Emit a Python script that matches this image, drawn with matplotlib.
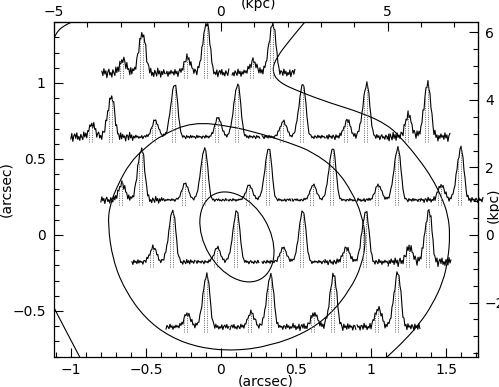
import numpy as np
import matplotlib
matplotlib.use("Agg")
import matplotlib.pyplot as plt
from matplotlib.path import Path
from matplotlib.patches import PathPatch, Ellipse
from matplotlib import ticker

kpc_per_arcsec = 4.5

# fibre positions (arcsec): continuum level of each row, x centre of each spectrum
row_y = [1.066, 0.645, 0.23, -0.178, -0.605]
row_x = [
    [-0.58, -0.153, 0.287],
    [-0.787, -0.367, 0.053, 0.487, 0.913, 1.32],
    [-0.587, -0.167, 0.26, 0.687, 1.12, 1.54],
    [-0.38, 0.047, 0.487, 0.907, 1.327],
    [-0.153, 0.273, 0.693, 1.12],
]
# line peak heights and noise level (plot units)
small_amp = [
    [0.085, 0.10, 0.08],
    [0.08, 0.11, 0.13, 0.105, 0.11, 0.145],
    [0.11, 0.11, 0.10, 0.10, 0.10, 0.10],
    [0.10, 0.095, 0.095, 0.095, 0.095],
    [0.09, 0.095, 0.09, 0.125],
]
big_amp = [
    [0.26, 0.33, 0.32],
    [0.26, 0.345, 0.345, 0.345, 0.345, 0.345],
    [0.34, 0.34, 0.34, 0.34, 0.34, 0.34],
    [0.335, 0.335, 0.335, 0.335, 0.335],
    [0.34, 0.34, 0.34, 0.355],
]
noise_amp = [
    [0.035, 0.028, 0.028],
    [0.033, 0.013, 0.013, 0.013, 0.02, 0.033],
    [0.026, 0.01, 0.01, 0.01, 0.013, 0.02],
    [0.018, 0.013, 0.013, 0.02, 0.033],
    [0.02, 0.02, 0.026, 0.026],
]

# line profiles, 64 channels per spectrum
small_prof = [0.0, 0.02, 0.04, 0.08, 0.15, 0.26, 0.4, 0.57, 0.74, 0.9, 1.0, 0.97, 0.86,
              0.7, 0.52, 0.35, 0.21, 0.11, 0.05, 0.02, 0.0]
big_prof = [0.0, 0.01, 0.02, 0.04, 0.07, 0.12, 0.2, 0.31, 0.45, 0.6, 0.75, 0.88, 0.97,
            1.0, 0.95, 0.82, 0.62, 0.4, 0.22, 0.1, 0.04, 0.01, 0.0]
noise = [0.3, -0.5, 0.8, -0.2, 0.4, -0.9, 0.2, 0.7, -0.4, 0.1, -0.8, 0.6, 0.0, -0.6, 0.9, -0.3,
         0.5, -0.7, 0.8, -0.1, 0.3, -0.5, 0.6, 0.1, -0.9, 0.7, -0.2, 0.3, -0.6, 0.8, -0.4, 0.5,
         -0.1, 0.2, -0.8, 0.4, 0.3, -0.6, 0.9, -0.2, 0.4, -0.7, 0.1, -0.4, 0.7, -0.9, 0.2, 0.6,
         -0.3, 0.8, -0.5, 0.1, -0.7, 0.5, 0.0, -0.6, 0.9, -0.2, 0.4, -0.8, 0.3, -0.3, 0.6, -0.1]

# contours (arcsec)
inner_c = (0.107, -0.013)
inner_w, inner_h, inner_ang = 0.638, 0.433, -59.5
mid_loop = [(-0.753, 0.066), (-0.74, 0.197), (-0.687, 0.329), (-0.607, 0.474), (-0.507, 0.572),
            (-0.393, 0.658), (-0.187, 0.743), (0.06, 0.717), (0.273, 0.664), (0.46, 0.605),
            (0.613, 0.546), (0.773, 0.428), (0.873, 0.283), (0.94, 0.132), (0.967, -0.033),
            (0.94, -0.197), (0.86, -0.362), (0.727, -0.526), (0.56, -0.645), (0.327, -0.73),
            (0.093, -0.763), (-0.14, -0.743), (-0.34, -0.671), (-0.507, -0.546), (-0.64, -0.362),
            (-0.72, -0.164)]
outer = [(0.56, 1.401), (0.46, 1.283), (0.373, 1.171), (0.34, 1.086), (0.38, 1.007),
         (0.527, 0.941), (0.727, 0.868), (0.94, 0.803), (1.113, 0.724), (1.213, 0.625),
         (1.313, 0.507), (1.407, 0.375), (1.473, 0.243), (1.513, 0.132), (1.527, 0.0),
         (1.513, -0.164), (1.48, -0.309), (1.407, -0.461), (1.327, -0.579), (1.227, -0.691),
         (1.107, -0.803)]
corner_tl = [(-1.111, 1.296), (-1.087, 1.342), (-1.047, 1.375), (-0.993, 1.401)]
corner_bl = [(-1.111, -0.48), (-1.027, -0.64), (-0.94, -0.803)]


def smooth(pts, closed=False):
    pts = np.asarray(pts, float)
    if closed:
        mids = (pts + np.roll(pts, -1, axis=0)) / 2
        verts, codes = [mids[-1]], [Path.MOVETO]
        for p, m in zip(pts, mids):
            verts += [p, m]
            codes += [Path.CURVE3, Path.CURVE3]
    else:
        mids = (pts[:-1] + pts[1:]) / 2
        verts, codes = [pts[0], mids[0]], [Path.MOVETO, Path.LINETO]
        for p, m in zip(pts[1:-1], mids[1:]):
            verts += [p, m]
            codes += [Path.CURVE3, Path.CURVE3]
        verts.append(pts[-1])
        codes.append(Path.LINETO)
    return Path(verts, codes)


fig = plt.figure(figsize=(4.99, 3.87), dpi=100)
ax = fig.add_axes([54/499, 30/387, 424/499, 335/387])
ax.set_xlim(-5/kpc_per_arcsec - 0.0005, 1.713)
ax.set_ylim(-0.803, 1.401)

nch = 64
dx = 0.425 / nch
S = np.zeros(nch); S[11:11+len(small_prof)] = small_prof
B = np.zeros(nch); B[28:28+len(big_prof)] = big_prof
N = np.array(noise)
chan = np.arange(nch)

k = 0
for r, yb in enumerate(row_y):
    for c, xc in enumerate(row_x[r]):
        xs = xc + (chan - 32) * dx
        ys = yb + small_amp[r][c]*S + big_amp[r][c]*B + noise_amp[r][c]*np.roll(N, 7*k)
        ax.plot(xs, ys, color='k', lw=0.8, clip_on=False)
        for i in (18, 21, 38, 41):
            ax.plot([xs[i], xs[i]], [yb - 0.035, ys[i]], color='0.4', lw=0.7,
                    ls=(0, (1, 1.3)), clip_on=False)
        k += 1

ax.add_patch(Ellipse(inner_c, inner_w, inner_h, angle=inner_ang, fill=False, ec='k', lw=0.8))
ax.add_patch(PathPatch(smooth(mid_loop, closed=True), fill=False, ec='k', lw=0.8))
for cv in (outer, corner_tl, corner_bl):
    ax.add_patch(PathPatch(smooth(cv), fill=False, ec='k', lw=0.8))

fmt = ticker.FuncFormatter(lambda v, p: ('%g' % v).replace('-', '\u2212'))

ax.xaxis.set_major_locator(ticker.MultipleLocator(0.5))
ax.xaxis.set_minor_locator(ticker.MultipleLocator(0.1))
ax.yaxis.set_major_locator(ticker.MultipleLocator(0.5))
ax.yaxis.set_minor_locator(ticker.MultipleLocator(0.1))
ax.xaxis.set_major_formatter(fmt)
ax.yaxis.set_major_formatter(fmt)
ax.tick_params(which='both', direction='in', width=0.8, labelsize=10)
ax.tick_params(which='major', length=6.5, pad=6)
ax.tick_params(axis='x', which='major', pad=4.5)
ax.tick_params(which='minor', length=3.5)
ax.tick_params(top=False, right=False)
for s in ax.spines.values():
    s.set_linewidth(0.9)

top = ax.secondary_xaxis('top', functions=(lambda a: a*kpc_per_arcsec, lambda q: q/kpc_per_arcsec))
top.xaxis.set_major_locator(ticker.MultipleLocator(5))
top.xaxis.set_minor_locator(ticker.MultipleLocator(1))
top.xaxis.set_major_formatter(fmt)
right = ax.secondary_yaxis('right', functions=(lambda a: a*kpc_per_arcsec, lambda q: q/kpc_per_arcsec))
right.yaxis.set_major_locator(ticker.MultipleLocator(2))
right.yaxis.set_minor_locator(ticker.MultipleLocator(0.5))
right.yaxis.set_major_formatter(fmt)
for sec in (top, right):
    sec.tick_params(which='both', direction='in', width=0.8, labelsize=10)
    sec.tick_params(which='major', length=6.5)
    sec.tick_params(which='minor', length=3.5)
top.tick_params(pad=2)
right.tick_params(pad=5)

ax.set_xlabel('(arcsec)', fontsize=10, labelpad=-2)
ax.set_ylabel('(arcsec)', fontsize=10)
ax.yaxis.set_label_coords(-0.095, 0.5)
fig.text(258/499, 1 - 4/387, '(kpc)', ha='center', va='center', fontsize=10)
fig.text(494/499, 1 - 205/387, '(kpc)', ha='center', va='center', rotation=90, fontsize=10)

fig.savefig('out.png', dpi=100)
